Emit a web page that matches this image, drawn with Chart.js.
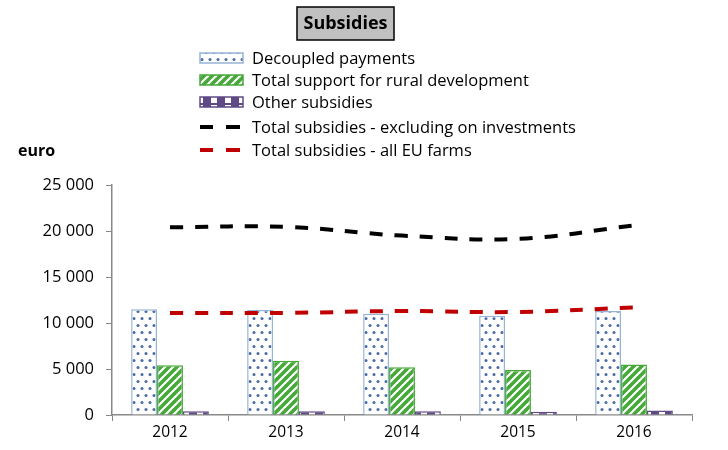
<!DOCTYPE html>
<html>
<head>
<meta charset="utf-8">
<script src="https://cdn.jsdelivr.net/npm/chart.js@4"></script>
<style>
  html, body { margin: 0; padding: 0; background: #fff; }
  #wrap { width: 728px; height: 450px; position: relative; }
</style>
</head>
<body>
<div id="wrap"><canvas id="subsidies" width="728" height="450"></canvas></div>
<script>
// chart data
const years = ['2012', '2013', '2014', '2015', '2016'];
const decoupled = [11500, 11400, 11000, 10800, 11300];
const ruralDev = [5400, 5900, 5200, 4900, 5500];
const otherSubs = [400, 400, 400, 350, 500];
const totalExclInv = [20400, 20450, 19500, 19150, 20600];
const totalAllEU = [11100, 11100, 11300, 11200, 11700];
const yTicks = [0, 5000, 10000, 15000, 20000, 25000];

const FONT = '"Open Sans", "Noto Sans", sans-serif';

// fill patterns
function makePattern(w, h, draw) {
  const c = document.createElement('canvas');
  c.width = w; c.height = h;
  const g = c.getContext('2d');
  draw(g, w, h);
  return c.getContext('2d').createPattern(c, 'repeat');
}
const dotPattern = makePattern(8, 14, function(g, w, h) {
  g.fillStyle = '#fff'; g.fillRect(0, 0, w, h);
  g.fillStyle = '#4a6aa0';
  g.beginPath(); g.arc(2, 3.5, 1.5, 0, Math.PI * 2); g.fill();
  g.beginPath(); g.arc(6, 10.5, 1.5, 0, Math.PI * 2); g.fill();
});
const stripePattern = makePattern(8, 8, function(g, w, h) {
  g.fillStyle = '#fff'; g.fillRect(0, 0, w, h);
  g.strokeStyle = '#45a838'; g.lineWidth = 3.6;
  for (let k = -1; k <= 1; k++) {
    g.beginPath(); g.moveTo(k * 8 - 1, h + 1); g.lineTo(k * 8 + w + 1, -1); g.stroke();
  }
});
const blockPattern = makePattern(14, 8, function(g, w, h) {
  g.fillStyle = '#5f4a85'; g.fillRect(0, 0, w, h);
  g.fillStyle = '#fff'; g.fillRect(1, 1, 6, h - 2);
});

const sep = v => String(v).replace(/\B(?=(\d{3})+(?!\d))/g, ' ');

// title box, legend and unit label
const decorPlugin = {
  id: 'decor',
  afterDraw(chart) {
    const ctx = chart.ctx;
    ctx.save();
    // title
    ctx.fillStyle = '#c0c0c0';
    ctx.fillRect(297, 7, 97, 33);
    ctx.strokeStyle = '#000'; ctx.lineWidth = 1.5;
    ctx.strokeRect(297, 7, 97, 33);
    ctx.fillStyle = '#000';
    ctx.font = 'bold 18px ' + FONT;
    ctx.textAlign = 'center'; ctx.textBaseline = 'middle';
    ctx.fillText('Subsidies', 345.5, 24);

    // legend
    const rows = [58, 80, 102, 127, 150];
    ctx.font = '16.5px ' + FONT;
    ctx.textAlign = 'left';
    chart.data.datasets.forEach(function(ds, i) {
      const y = rows[i];
      if (ds.type === 'line') {
        ctx.strokeStyle = ds.borderColor; ctx.lineWidth = 4;
        ctx.beginPath(); ctx.moveTo(200, y); ctx.lineTo(213, y);
        ctx.moveTo(226, y); ctx.lineTo(240, y); ctx.stroke();
      } else {
        ctx.fillStyle = ds.backgroundColor;
        ctx.fillRect(200, y - 5, 43, 10);
        ctx.strokeStyle = ds.borderColor; ctx.lineWidth = 1.5;
        ctx.strokeRect(200, y - 5, 43, 10);
      }
      ctx.fillStyle = '#000';
      ctx.fillText(ds.label, 252, y + 1);
    });

    // unit
    ctx.font = 'bold 16px ' + FONT;
    ctx.fillText('euro', 18, 151);
    ctx.restore();
  }
};

const ctx = document.getElementById('subsidies').getContext('2d');
const subsidiesChart = new Chart(ctx, {
  data: {
    labels: years,
    datasets: [
      { type: 'bar', label: 'Decoupled payments', data: decoupled,
        backgroundColor: dotPattern, borderColor: '#95b3d7', borderWidth: 1.5, order: 1 },
      { type: 'bar', label: 'Total support for rural development', data: ruralDev,
        backgroundColor: stripePattern, borderColor: '#45a838', borderWidth: 1.5, order: 1 },
      { type: 'bar', label: 'Other subsidies', data: otherSubs,
        backgroundColor: blockPattern, borderColor: '#5f4a85', borderWidth: 1.5, order: 1 },
      { type: 'line', label: 'Total subsidies - excluding on investments', data: totalExclInv,
        borderColor: '#000', borderWidth: 4, borderDash: [13, 12], tension: 0.4,
        pointRadius: 0, fill: false, order: 0 },
      { type: 'line', label: 'Total subsidies - all EU farms', data: totalAllEU,
        borderColor: '#c00000', borderWidth: 4, borderDash: [13, 12], tension: 0.4,
        pointRadius: 0, fill: false, order: 0 }
    ]
  },
  options: {
    responsive: false,
    animation: false,
    layout: { padding: { top: 185, right: 36, left: 0, bottom: 0 } },
    plugins: { legend: { display: false }, tooltip: { enabled: false } },
    datasets: { bar: { categoryPercentage: 0.67, barPercentage: 1 } },
    scales: {
      x: {
        offset: true,
        grid: { offset: true, drawOnChartArea: false, drawTicks: true, tickLength: 6, color: '#888' },
        border: { color: '#888', width: 1.5 },
        ticks: { color: '#000', font: { family: FONT, size: 15.5 }, padding: 2 },
        afterFit(scale) { scale.height = 35; }
      },
      y: {
        min: 0, max: 25000,
        afterBuildTicks(scale) { scale.ticks = yTicks.map(v => ({ value: v })); },
        grid: { drawOnChartArea: false, drawTicks: true, tickLength: 6, color: '#888' },
        border: { color: '#888', width: 1.5 },
        ticks: { color: '#000', font: { family: FONT, size: 16.5 }, padding: 12, callback: v => sep(v) },
        afterFit(scale) { scale.width = 112; }
      }
    }
  },
  plugins: [decorPlugin]
});
</script>
</body>
</html>
